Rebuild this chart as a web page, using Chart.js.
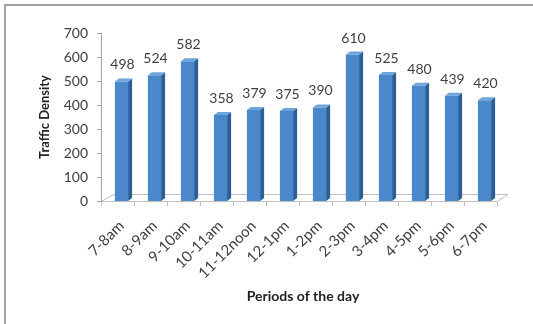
<!DOCTYPE html>
<html lang="en">
<head>
<meta charset="UTF-8">
<title>Traffic Density</title>
<script src="https://cdn.jsdelivr.net/npm/chart.js"></script>
<style>
    html, body { margin: 0; padding: 0; background: #fff; }
    #wrap { position: relative; width: 533px; height: 324px; overflow: hidden; }
    #frame {
        position: absolute; left: 4px; top: 4px; width: 600px; height: 400px;
        border-top: 2px solid #a3a3a3; border-left: 2px solid #a3a3a3;
    }
    canvas { position: absolute; left: 0; top: 0; }
</style>
</head>
<body>
<div id="wrap">
    <div id="frame"></div>
    <canvas id="chart" width="533" height="324"></canvas>
</div>
<script>
const periods = ['7-8am', '8-9am', '9-10am', '10-11am', '11-12noon', '12-1pm',
                 '1-2pm', '2-3pm', '3-4pm', '4-5pm', '5-6pm', '6-7pm'];
const density = [498, 524, 582, 358, 379, 375, 390, 610, 525, 480, 439, 420];
const yMax = 700;
const yStep = 100;

const FONT = 'Lato, "Open Sans", sans-serif';
const TEXT = '#3f3f3f';
const DEPTH_X = 4, DEPTH_Y = -3;

// floor, axis lines and tick marks sit a few px left of the bar plane
const floorPlugin = {
    id: 'floor',
    beforeDatasetsDraw(chart) {
        const { ctx, chartArea: a, scales: { x, y } } = chart;
        const fx = a.left - 4, rx = a.right - 4, fy = y.getPixelForValue(0);
        ctx.save();
        ctx.strokeStyle = '#bfbfbf';
        ctx.lineWidth = 1;
        ctx.beginPath();
        // front edge, back edge and the two slanted sides of the floor
        ctx.moveTo(fx, fy + 0.5); ctx.lineTo(rx, fy + 0.5);
        ctx.lineTo(rx + 11, fy - 6.5);
        ctx.lineTo(fx + 13, fy - 6.5);
        ctx.lineTo(fx, fy + 0.5);
        ctx.stroke();
        // category tick marks below the front edge
        ctx.beginPath();
        for (let i = 0; i <= periods.length; i++) {
            const px = Math.round(fx + i * (a.right - a.left) / periods.length) + 0.5;
            ctx.moveTo(px, fy); ctx.lineTo(px, fy + 5);
        }
        ctx.stroke();
        // value axis
        ctx.strokeStyle = '#a6a6a6';
        ctx.beginPath();
        ctx.moveTo(fx + 0.5, y.getPixelForValue(yMax)); ctx.lineTo(fx + 0.5, fy + 1);
        for (let v = 0; v <= yMax; v += yStep) {
            const py = Math.round(y.getPixelForValue(v)) + 0.5;
            ctx.moveTo(fx - 4, py); ctx.lineTo(fx, py);
        }
        ctx.stroke();
        ctx.restore();
    }
};

// side and top faces of each bar plus the value above it
const barsPlugin = {
    id: 'bars3d',
    afterDatasetsDraw(chart) {
        const { ctx } = chart;
        const meta = chart.getDatasetMeta(0);
        ctx.save();
        meta.data.forEach((el, i) => {
            const { x, y, base, width } = el.getProps(['x', 'y', 'base', 'width'], true);
            const l = x - width / 2, r = x + width / 2;
            ctx.fillStyle = '#2b5f97';
            ctx.beginPath();
            ctx.moveTo(r, y); ctx.lineTo(r + DEPTH_X, y + DEPTH_Y);
            ctx.lineTo(r + DEPTH_X, base + DEPTH_Y); ctx.lineTo(r, base);
            ctx.closePath(); ctx.fill();
            ctx.fillStyle = '#6fa3db';
            ctx.beginPath();
            ctx.moveTo(l, y); ctx.lineTo(l + DEPTH_X, y + DEPTH_Y);
            ctx.lineTo(r + DEPTH_X, y + DEPTH_Y); ctx.lineTo(r, y);
            ctx.closePath(); ctx.fill();

            ctx.fillStyle = TEXT;
            ctx.font = '14px ' + FONT;
            ctx.textAlign = 'center';
            ctx.textBaseline = 'alphabetic';
            ctx.fillText(String(density[i]), x + 1, y - 12);
        });
        ctx.restore();
    }
};

function barFill(c) {
    const el = c.element;
    if (!el || !Number.isFinite(el.x) || !Number.isFinite(el.width)) return '#4a88cb';
    const g = c.chart.ctx.createLinearGradient(el.x - el.width / 2, 0, el.x + el.width / 2, 0);
    g.addColorStop(0, '#5a98d6');
    g.addColorStop(1, '#3f7dc0');
    return g;
}

const ctx = document.getElementById('chart').getContext('2d');
new Chart(ctx, {
    type: 'bar',
    data: {
        labels: periods,
        datasets: [{
            data: density,
            backgroundColor: barFill,
            borderWidth: 0,
            categoryPercentage: 1,
            barPercentage: 0.4
        }]
    },
    options: {
        responsive: false,
        animation: false,
        layout: { padding: { top: 33, right: 32, left: 0, bottom: 0 } },
        plugins: { legend: { display: false }, tooltip: { enabled: false } },
        scales: {
            x: {
                grid: { display: false, drawTicks: false },
                border: { display: false },
                ticks: {
                    minRotation: 45, maxRotation: 45, padding: 16, autoSkip: false,
                    color: TEXT, font: { family: FONT, size: 15 }
                },
                title: {
                    display: true, text: 'Periods of the day', color: '#222',
                    font: { family: FONT, size: 14, weight: 'bold' },
                    padding: { top: 0, bottom: 19 }
                },
                afterFit(scale) { scale.height = 123; }
            },
            y: {
                min: 0, max: yMax,
                grid: { display: false, drawTicks: false },
                border: { display: false },
                ticks: {
                    stepSize: yStep, padding: 17,
                    color: TEXT, font: { family: FONT, size: 14 }
                },
                title: {
                    display: true, text: 'Traffic Density', color: '#222',
                    font: { family: FONT, size: 13, weight: 'bold' },
                    padding: { top: 37, bottom: 0 }
                },
                afterFit(scale) { scale.width = 105; }
            }
        }
    },
    plugins: [floorPlugin, barsPlugin]
});
</script>
</body>
</html>
